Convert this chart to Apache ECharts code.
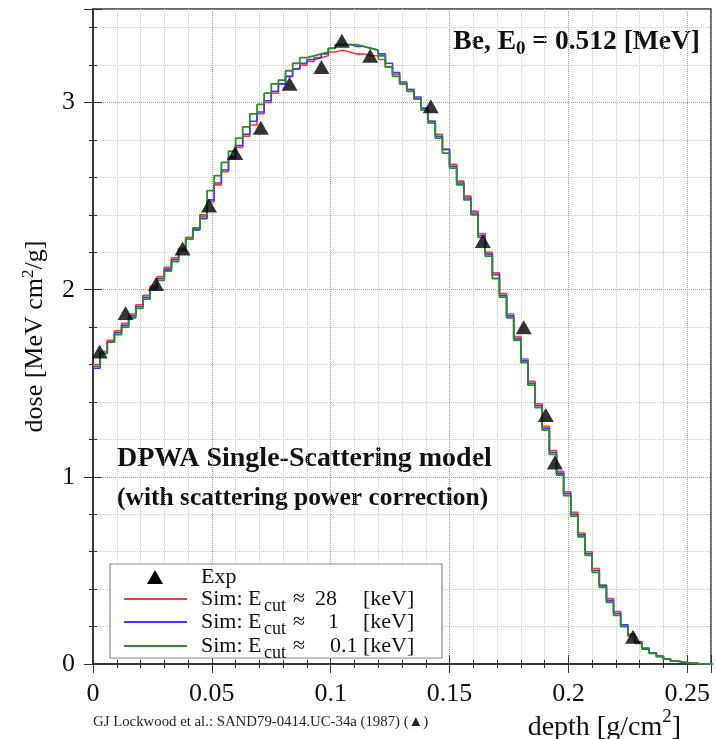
<!DOCTYPE html>
<html>
<head>
<meta charset="utf-8">
<script src="https://cdn.jsdelivr.net/npm/echarts@6/dist/echarts.min.js"></script>
<style>
html,body{margin:0;padding:0;background:#fff;}
#c{width:716px;height:739px;}
</style>
</head>
<body>
<div id="c"></div>
<script>
// Histogram bin width [g/cm2]; bins start at depth 0
var binWidth = 0.003;

// Sim: Ecut ~ 28 keV (red)
var dose28 = [1.60,1.67,1.73,1.78,1.82,1.87,1.92,1.97,2.02,2.07,
  2.12,2.17,2.22,2.28,2.33,2.39,2.47,2.56,2.63,2.70,
  2.76,2.82,2.88,2.94,3.00,3.05,3.10,3.14,3.18,3.20,
  3.22,3.24,3.25,3.27,3.28,3.27,3.26,3.26,3.25,3.25,
  3.23,3.19,3.15,3.10,3.07,3.02,2.97,2.90,2.83,2.75,
  2.67,2.58,2.50,2.42,2.30,2.20,2.09,1.98,1.87,1.75,
  1.63,1.51,1.39,1.27,1.14,1.03,0.92,0.81,0.70,0.60,
  0.51,0.42,0.35,0.28,0.21,0.16,0.12,0.085,0.06,0.042,
  0.027,0.016,0.009,0.005,0.002,0.001,0];

// Sim: Ecut ~ 1 keV (blue)
var dose1 = [1.58,1.66,1.72,1.77,1.81,1.86,1.91,1.96,2.01,2.06,
  2.11,2.16,2.21,2.27,2.32,2.38,2.48,2.57,2.64,2.71,
  2.77,2.83,2.90,2.95,3.01,3.06,3.10,3.14,3.18,3.21,
  3.23,3.24,3.26,3.29,3.31,3.31,3.30,3.30,3.29,3.28,
  3.26,3.21,3.16,3.11,3.07,3.03,2.97,2.90,2.82,2.75,
  2.66,2.57,2.49,2.41,2.29,2.19,2.08,1.97,1.86,1.74,
  1.62,1.50,1.38,1.26,1.13,1.02,0.91,0.80,0.69,0.59,
  0.50,0.42,0.34,0.27,0.21,0.155,0.115,0.082,0.058,0.041,
  0.026,0.015,0.009,0.005,0.002,0.001,0];

// Sim: Ecut ~ 0.1 keV (green)
var dose01 = [1.59,1.66,1.72,1.76,1.80,1.85,1.90,1.95,2.00,2.05,
  2.10,2.15,2.21,2.27,2.33,2.40,2.53,2.61,2.68,2.74,
  2.81,2.87,2.94,2.99,3.05,3.10,3.12,3.17,3.21,3.24,
  3.25,3.26,3.27,3.29,3.31,3.31,3.31,3.30,3.29,3.28,
  3.25,3.19,3.14,3.10,3.06,3.02,2.96,2.89,2.81,2.73,
  2.65,2.56,2.48,2.40,2.28,2.18,2.06,1.96,1.85,1.73,
  1.61,1.49,1.37,1.25,1.12,1.01,0.90,0.79,0.68,0.58,
  0.49,0.41,0.33,0.26,0.20,0.15,0.11,0.08,0.057,0.040,
  0.026,0.015,0.009,0.005,0.002,0.001,0];

// Experiment (Lockwood et al.)
var expDepth = [0.0028,0.0137,0.0265,0.0377,0.0488,0.0598,0.0706,0.0827,0.0961,0.1047,0.1166,0.1421,0.1640,0.1812,0.1905,0.1943,0.2272];
var expDose  = [1.67,1.875,2.03,2.22,2.45,2.73,2.865,3.10,3.19,3.33,3.25,2.98,2.26,1.80,1.33,1.077,0.146];

// Legend labels
var legendEcut = ['28', '1', '0.1'];

var colRed = '#ff3a3a', colBlue = '#3838ff', colGreen = '#2a8c2a';

function histPoints(vals){
  var pts = [];
  for (var i=0;i<vals.length;i++) pts.push([+(i*binWidth).toFixed(4), vals[i]]);
  pts.push([+(vals.length*binWidth).toFixed(4), vals[vals.length-1]]);
  return pts;
}
var expData = expDepth.map(function(d,i){return [d, expDose[i]];});

var serif = 'Liberation Serif';

var chart = echarts.init(document.getElementById('c'));
var axisCommon = {
  type:'value',
  axisLine:{show:true, lineStyle:{color:'#333', width:1.5}},
  axisTick:{show:true, inside:true, length:9, lineStyle:{color:'#333', width:1}},
  minorTick:{show:true, splitNumber:5, length:4, lineStyle:{color:'#333', width:1}},
  splitLine:{show:true, lineStyle:{color:'#999', type:'dotted', width:1}},
  minorSplitLine:{show:true, lineStyle:{color:'#ccc', type:'dotted', width:1}}
};
function ax(extra){ return Object.assign({}, JSON.parse(JSON.stringify(axisCommon)), extra); }

// Legend built from graphic elements
var legX = 110, legY = 564, legW = 332, legH = 94;
var rowY = [577, 599, 622, 646];
var rowCol = [colRed, colBlue, colGreen];
var numX = [315, 328, 330];
var legendGraphics = [
  {type:'rect', shape:{x:legX, y:legY, width:legW, height:legH}, style:{fill:'#fff', stroke:'#888', lineWidth:1.2}, z:10},
  {type:'polygon', shape:{points:[[155,570],[163,584],[147,584]]}, style:{fill:'#000'}, z:11},
  {type:'text', x:201, y:rowY[0], style:{text:'Exp', fontFamily:serif, fontSize:22, fill:'#111', textVerticalAlign:'middle'}, z:11}
];
for (var r=0;r<3;r++){
  var yy = rowY[r+1];
  legendGraphics.push({type:'line', shape:{x1:124, y1:yy, x2:187, y2:yy}, style:{stroke:rowCol[r], lineWidth:1.8}, z:11});
  legendGraphics.push({type:'text', x:201, y:yy, style:{text:'Sim: E', fontFamily:serif, fontSize:22, fill:'#111', textVerticalAlign:'middle'}, z:11});
  legendGraphics.push({type:'text', x:264, y:yy+7, style:{text:'cut', fontFamily:serif, fontSize:18, fill:'#111', textVerticalAlign:'middle'}, z:11});
  legendGraphics.push({type:'text', x:293, y:yy, style:{text:'≈', fontFamily:serif, fontSize:22, fill:'#111', textVerticalAlign:'middle'}, z:11});
  legendGraphics.push({type:'text', x:numX[r], y:yy, style:{text:legendEcut[r], fontFamily:serif, fontSize:22, fill:'#111', textVerticalAlign:'middle'}, z:11});
  legendGraphics.push({type:'text', x:363, y:yy, style:{text:'[keV]', fontFamily:serif, fontSize:22, fill:'#111', textVerticalAlign:'middle'}, z:11});
}

chart.setOption({
  animation:false,
  backgroundColor:'#fff',
  grid:{left:93, top:9, right:5, bottom:75, show:true, borderColor:'#333', borderWidth:1.5},
  xAxis:[
    ax({min:0, max:0.26, interval:0.05, position:'bottom',
      axisLabel:{show:true, margin:17, fontFamily:serif, fontSize:26, color:'#111', showMaxLabel:false,
        formatter:function(v){return String(+v.toFixed(2));}}
    }),
    ax({min:0, max:0.26, interval:0.05, position:'top',
      axisLabel:{show:false}, splitLine:{show:false}, minorSplitLine:{show:false}})
  ],
  yAxis:[
    ax({min:0, max:3.5, interval:1, position:'left',
      name:'{a|dose [MeV cm}{p|2}{a|/g]}', nameLocation:'middle', nameGap:43, nameRotate:90,
      nameTextStyle:{rich:{
        a:{fontFamily:serif, fontSize:26, color:'#111', lineHeight:30},
        p:{fontFamily:serif, fontSize:17, color:'#111', lineHeight:30, verticalAlign:'top'}
      }},
      axisLabel:{show:true, margin:18, fontFamily:serif, fontSize:26, color:'#111', showMaxLabel:false}
    }),
    ax({min:0, max:3.5, interval:1, position:'right',
      axisLabel:{show:false}, splitLine:{show:false}, minorSplitLine:{show:false}})
  ],
  graphic:[
    {type:'text', right:16, top:28, style:{
      text:'{b|Be, E}{s|0}{b| = 0.512 [MeV]}',
      rich:{
        b:{fontFamily:serif, fontWeight:'bold', fontSize:27.5, fill:'#111', lineHeight:34, verticalAlign:'middle'},
        s:{fontFamily:serif, fontWeight:'bold', fontSize:19, fill:'#111', lineHeight:16, verticalAlign:'bottom'}
      }}},
    {type:'text', left:117, top:445, style:{text:'DPWA Single-Scattering model', fontFamily:serif, fontWeight:'bold', fontSize:28, fill:'#111'}},
    {type:'text', left:117, top:485, style:{text:'(with scattering power correction)', fontFamily:serif, fontWeight:'bold', fontSize:25.5, fill:'#111'}},
    {type:'text', left:93, top:715, style:{text:'GJ Lockwood et al.: SAND79-0414.UC-34a (1987) (▲)', fontFamily:serif, fontSize:14.8, fill:'#222'}},
    {type:'text', right:35, top:708, style:{
      text:'{a|depth [g/cm}{p|2}{a|]}',
      rich:{
        a:{fontFamily:serif, fontSize:28, fill:'#111', lineHeight:34, verticalAlign:'bottom'},
        p:{fontFamily:serif, fontSize:19, fill:'#111', lineHeight:34, verticalAlign:'top'}
      }}}
  ].concat(legendGraphics),
  series:[
    {name:'Sim28', type:'line', step:'end', data:histPoints(dose28), showSymbol:false, symbol:'none',
      lineStyle:{color:colRed, width:1.6}, itemStyle:{color:colRed}, z:2},
    {name:'Sim1', type:'line', step:'end', data:histPoints(dose1), showSymbol:false, symbol:'none',
      lineStyle:{color:colBlue, width:1.6}, itemStyle:{color:colBlue}, z:3},
    {name:'Sim01', type:'line', step:'end', data:histPoints(dose01), showSymbol:false, symbol:'none',
      lineStyle:{color:colGreen, width:1.8}, itemStyle:{color:colGreen}, z:4},
    {name:'Exp', type:'scatter', data:expData, symbol:'triangle', symbolSize:[16,14],
      itemStyle:{color:'#000'}, z:5}
  ]
});
</script>
</body>
</html>
